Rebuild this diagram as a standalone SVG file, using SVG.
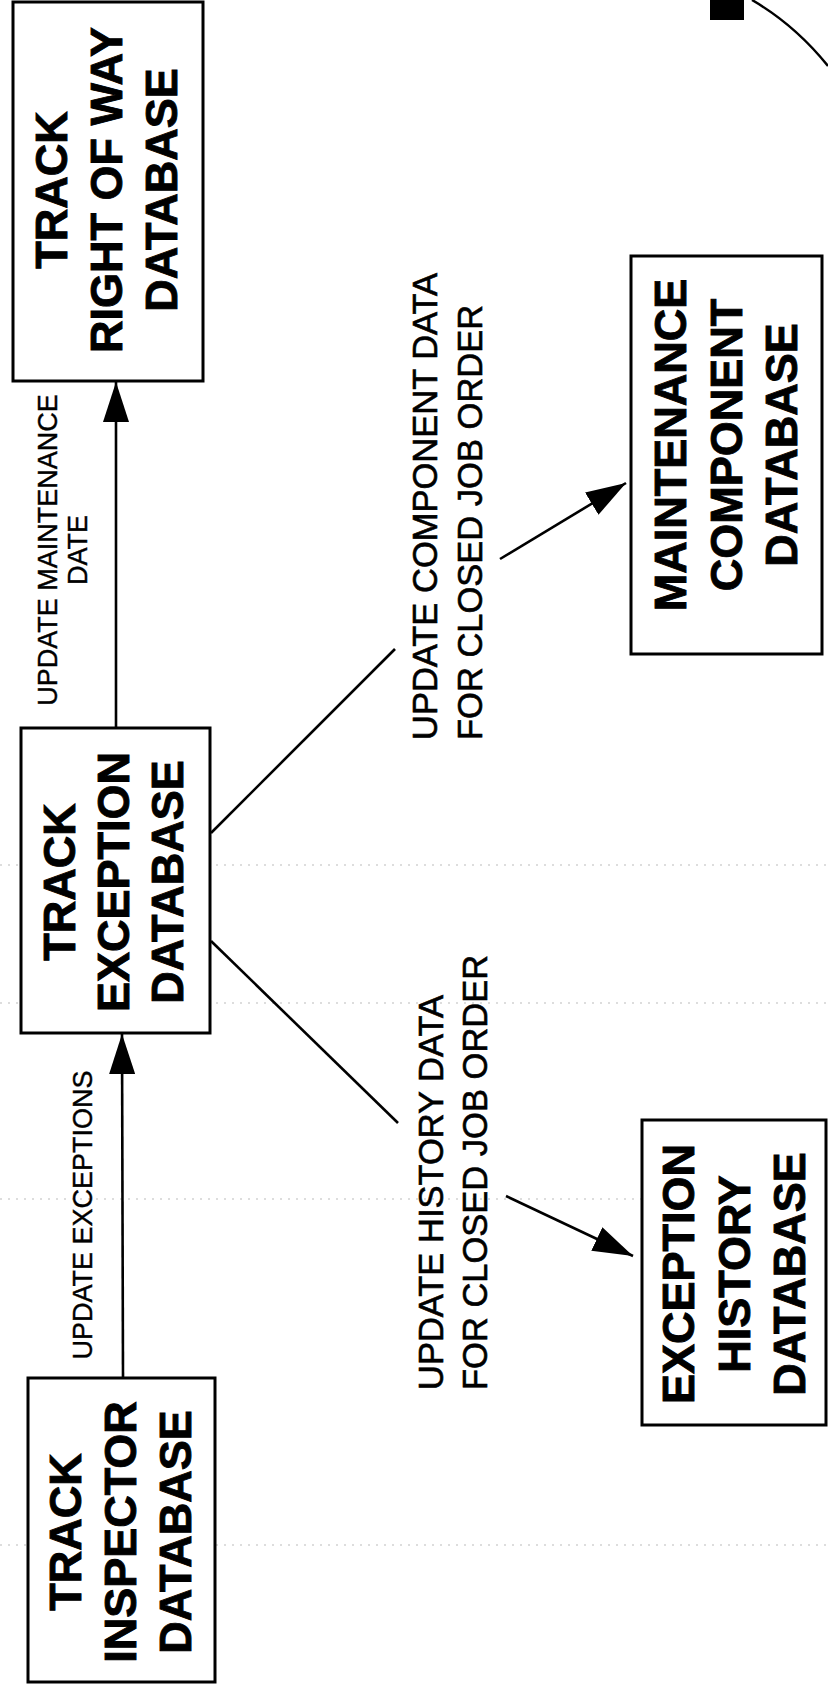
<svg xmlns="http://www.w3.org/2000/svg" width="828" height="1689" viewBox="0 0 828 1689">
<style>
.box{fill:#fff;stroke:#000;stroke-width:3}
.nl{font-family:"Liberation Sans",Arial,sans-serif;font-weight:bold;font-size:45px;fill:#000;stroke:#000;stroke-width:0.9}
.cl{font-family:"Liberation Sans",Arial,sans-serif;font-size:27px;fill:#000;stroke:#000;stroke-width:0.4}
.dl{font-family:"Liberation Sans",Arial,sans-serif;font-size:34.5px;fill:#000;stroke:#000;stroke-width:0.6}
.ln{stroke:#000;stroke-width:2.6;fill:none}
.scan{stroke:#bbb;stroke-width:1;stroke-dasharray:2 6;fill:none}
</style>
<defs>
<marker id="ah" markerUnits="userSpaceOnUse" markerWidth="40" markerHeight="26" refX="40" refY="13" orient="auto">
<path d="M0,0 L40,13 L0,26 z" fill="#000"/>
</marker>
</defs>
<rect width="828" height="1689" fill="#fff"/>
<g id="artifacts">
<line class="scan" x1="0" y1="865" x2="828" y2="865"/>
<line class="scan" x1="0" y1="1003" x2="828" y2="1003"/>
<line class="scan" x1="0" y1="1199" x2="828" y2="1199"/>
<line class="scan" x1="0" y1="1545" x2="828" y2="1545"/>
<rect x="710" y="0" width="34" height="20" fill="#000"/>
<path d="M752,0 Q795,25 828,66" stroke="#000" stroke-width="2.5" fill="none"/>
</g>
<g id="connectors">
<line class="ln" x1="116" y1="728" x2="116" y2="382" marker-end="url(#ah)"/>
<line class="ln" x1="123" y1="1378" x2="122" y2="1034" marker-end="url(#ah)"/>
<line class="ln" x1="211" y1="833" x2="395" y2="649"/>
<line class="ln" x1="500" y1="559" x2="626" y2="483" marker-end="url(#ah)"/>
<line class="ln" x1="211" y1="941" x2="398" y2="1123"/>
<line class="ln" x1="506" y1="1196" x2="633" y2="1256" marker-end="url(#ah)"/>
<text class="cl" transform="rotate(-90)" text-anchor="middle"><tspan x="-550" y="57">UPDATE MAINTENANCE</tspan><tspan x="-550" y="87">DATE</tspan></text>
<text class="cl" transform="rotate(-90)" text-anchor="middle"><tspan x="-1215" y="92">UPDATE EXCEPTIONS</tspan></text>
<text class="dl" transform="rotate(-90)" text-anchor="start"><tspan x="-740" y="437">UPDATE COMPONENT DATA</tspan><tspan x="-740" y="482">FOR CLOSED JOB ORDER</tspan></text>
<text class="dl" transform="rotate(-90)" text-anchor="start"><tspan x="-1390" y="443">UPDATE HISTORY DATA</tspan><tspan x="-1390" y="487">FOR CLOSED JOB ORDER</tspan></text>
</g>
<g id="track_row">
<rect class="box" x="13" y="2" width="190" height="379"/>
<text class="nl" transform="rotate(-90)" text-anchor="middle"><tspan x="-190" y="67">TRACK</tspan><tspan x="-190" y="122">RIGHT OF WAY</tspan><tspan x="-190" y="177">DATABASE</tspan></text>
</g>
<g id="track_exception">
<rect class="box" x="21" y="728" width="189" height="305"/>
<text class="nl" transform="rotate(-90)" text-anchor="middle"><tspan x="-882" y="75">TRACK</tspan><tspan x="-882" y="129">EXCEPTION</tspan><tspan x="-882" y="183">DATABASE</tspan></text>
</g>
<g id="track_inspector">
<rect class="box" x="28" y="1378" width="187" height="304"/>
<text class="nl" transform="rotate(-90)" text-anchor="middle"><tspan x="-1532" y="81">TRACK</tspan><tspan x="-1532" y="136">INSPECTOR</tspan><tspan x="-1532" y="191">DATABASE</tspan></text>
</g>
<g id="maintenance_component">
<rect class="box" x="631" y="256" width="191" height="398"/>
<text class="nl" transform="rotate(-90)" text-anchor="middle"><tspan x="-445" y="686">MAINTENANCE</tspan><tspan x="-445" y="742">COMPONENT</tspan><tspan x="-445" y="797">DATABASE</tspan></text>
</g>
<g id="exception_history">
<rect class="box" x="642" y="1120" width="184" height="305"/>
<text class="nl" transform="rotate(-90)" text-anchor="middle"><tspan x="-1274" y="694">EXCEPTION</tspan><tspan x="-1274" y="750">HISTORY</tspan><tspan x="-1274" y="805">DATABASE</tspan></text>
</g>
</svg>
